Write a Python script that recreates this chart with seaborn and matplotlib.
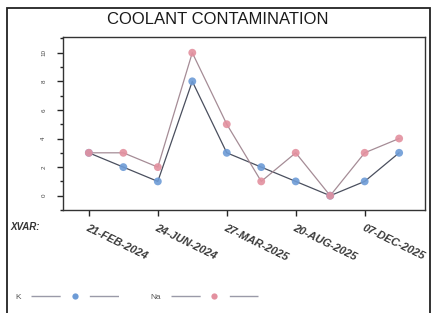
import matplotlib
matplotlib.use("Agg")
import matplotlib.pyplot as plt
import seaborn as sns
import pandas as pd
import numpy as np
from matplotlib.lines import Line2D
from matplotlib.patches import Rectangle

# ---- data ----
point_index = [0, 1, 2, 3, 4, 5, 6, 7, 8, 9]
k_values = [3, 2, 1, 8, 3, 2, 1, 0, 1, 3]
na_values = [3, 3, 2, 10, 5, 1, 3, 0, 3, 4]
tick_positions = [0, 2, 4, 6, 8]
tick_labels = ["21-FEB-2024", "24-JUN-2024", "27-MAR-2025", "20-AUG-2025", "07-DEC-2025"]
y_ticks = [0, 2, 4, 6, 8, 10]
series_names = ["K", "Na"]

df = pd.DataFrame({
    "idx": point_index * 2,
    "value": k_values + na_values,
    "element": ["K"] * len(k_values) + ["Na"] * len(na_values),
})

sns.set_style("ticks")
plt.rcParams["font.family"] = ["Liberation Sans", "DejaVu Sans"]

line_colors = {"K": "#4a4f5e", "Na": "#a58c96"}
marker_colors = {"K": "#6d9bd6", "Na": "#e3909f"}

fig = plt.figure(figsize=(4.33, 3.13), dpi=100)
ax = fig.add_axes([63 / 433, 1 - 210 / 313, (425 - 63) / 433, (210 - 37) / 313])

sns.lineplot(data=df, x="idx", y="value", hue="element", palette=line_colors,
             lw=0.9, ax=ax, legend=False)
sns.scatterplot(data=df, x="idx", y="value", hue="element", palette=marker_colors,
                s=32, edgecolor=None, linewidth=0, alpha=0.9, ax=ax, legend=False, zorder=3)

ax.set_xlim(-0.75, 9.75)
ax.set_ylim(-1.0, 11.1)
ax.set_xlabel("")
ax.set_ylabel("")
ax.set_xticks(tick_positions)
ax.set_xticklabels(tick_labels, rotation=-26, ha="left", va="top",
                   rotation_mode="anchor", fontsize=8, fontweight="bold",
                   fontstyle="italic", color="#3a3a3a")
ax.tick_params(axis="x", length=4, width=1.0, pad=5)
ax.set_yticks(y_ticks)
ax.set_yticks([-1, 1, 3, 5, 7, 9, 11], minor=True)
ax.set_yticklabels([str(v) for v in y_ticks], rotation=90, fontsize=4.5,
                   va="center", color="#444444")
ax.tick_params(axis="y", which="major", length=4, width=1.0, pad=8)
ax.tick_params(axis="y", which="minor", length=2.5, width=1.0)
for sp in ax.spines.values():
    sp.set_visible(True)
    sp.set_linewidth(1.0)
    sp.set_color("#333333")

fig.text(218 / 433, 1 - 20 / 313, "COOLANT CONTAMINATION", ha="center", va="center",
         fontsize=12, color="#1a1a1a")
fig.text(10 / 433, 1 - 227 / 313, "XVAR:", ha="left", va="center", fontsize=7,
         fontweight="bold", fontstyle="italic", color="#333333")

# outer frame
fig.patches.append(Rectangle((7 / 433, -0.1), (430 - 7) / 433, 1.1 - 8 / 313,
                             transform=fig.transFigure, fill=False,
                             edgecolor="#222222", linewidth=1.3))

handles = [Line2D([], [], color="#9a9aa8", lw=1.0, linestyle=(0, (21, 21)),
                  marker="o", markersize=4.5, markerfacecolor=marker_colors[n],
                  markeredgewidth=0) for n in series_names]
fig.legend(handles, series_names, loc="center left", bbox_to_anchor=(8 / 433, 1 - 297 / 313),
           ncol=2, frameon=False, markerfirst=False, fontsize=6, handlelength=10.5,
           columnspacing=3.8, handletextpad=1.2, labelcolor="#555555")

fig.savefig("out.png", dpi=100)
